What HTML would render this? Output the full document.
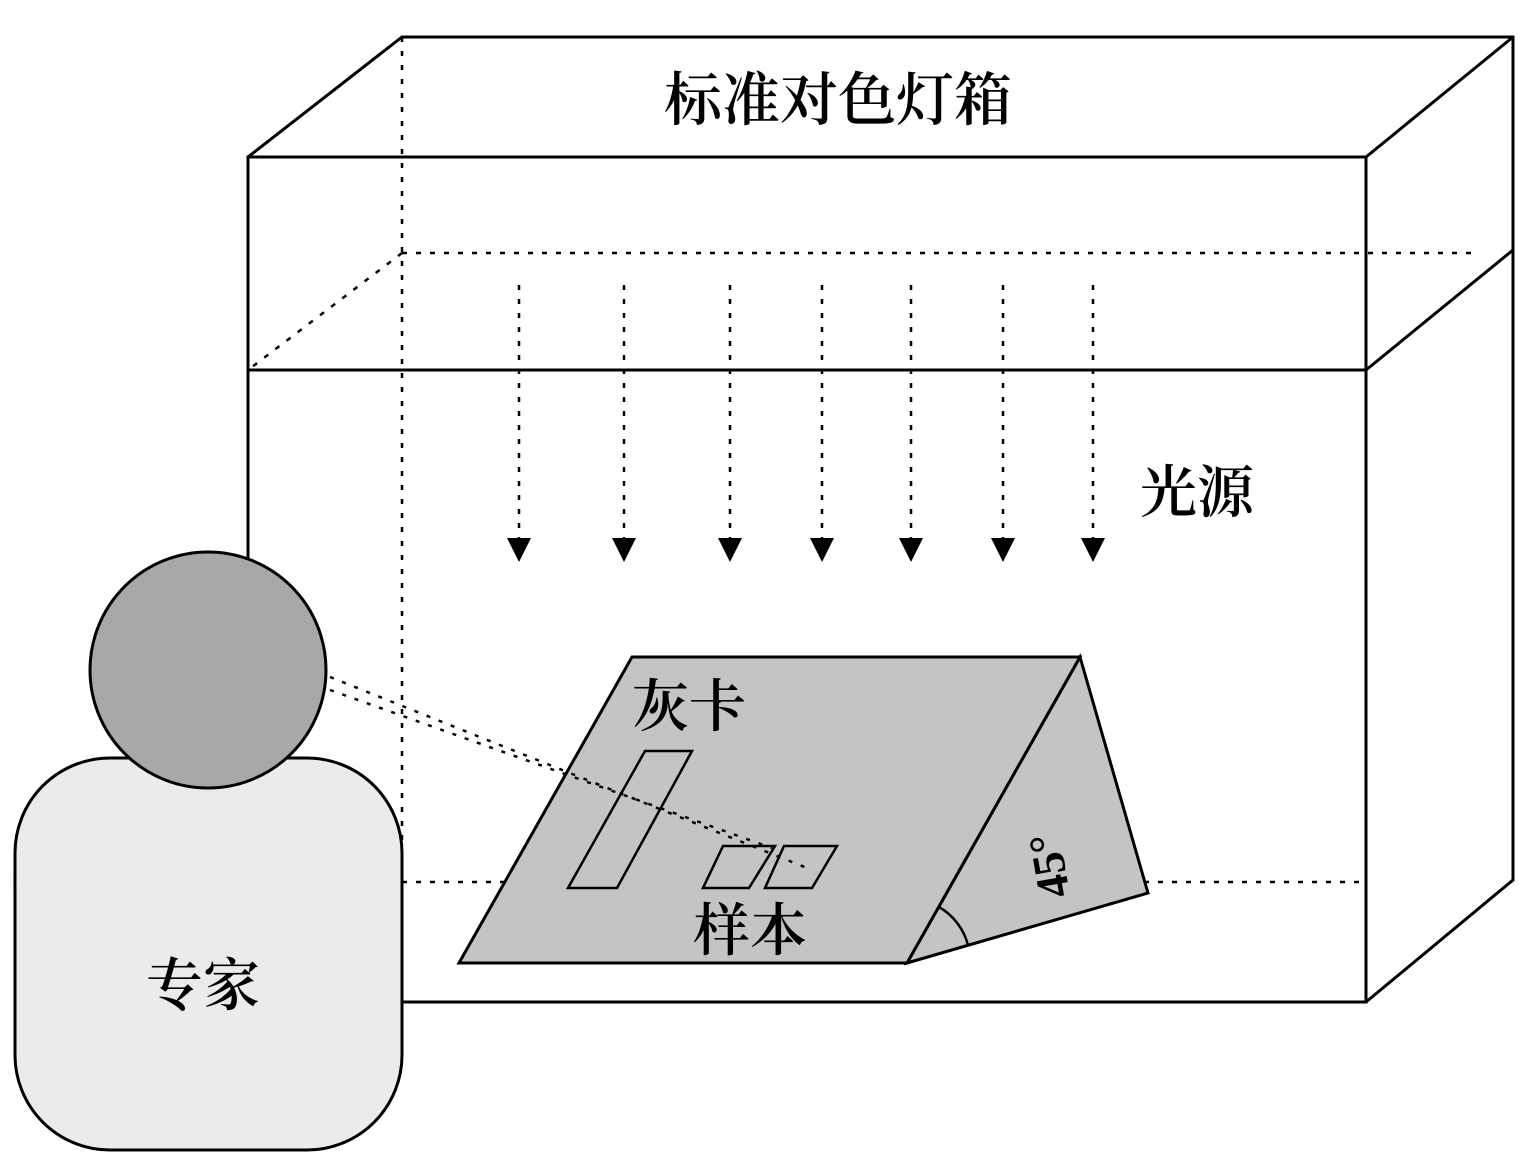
<!DOCTYPE html>
<html><head><meta charset="utf-8"><style>
html,body{margin:0;padding:0;background:#fff}
svg{display:block}
text{font-family:"Liberation Serif","Noto Serif CJK SC",serif;fill:#000;font-weight:600}
</style></head><body>
<svg width="1533" height="1176" viewBox="0 0 1533 1176" xmlns="http://www.w3.org/2000/svg">
<g stroke="#000" stroke-width="3" fill="none">
<g stroke-dasharray="5,9" stroke-width="2.5">
<line x1="402" y1="37" x2="402" y2="880"/>
<line x1="402" y1="253" x2="1480" y2="253"/>
<line x1="402" y1="253" x2="248" y2="370"/>
<line x1="402" y1="882" x2="1360" y2="882"/>
</g>
<rect x="248" y="157" width="1118" height="845"/>
<line x1="248" y1="370" x2="1366" y2="370"/>
<polyline points="248,157 402,37 1513,37 1513,880 1366,1002"/>
<line x1="1366" y1="157" x2="1513" y2="37"/>
<line x1="1366" y1="370" x2="1513" y2="250"/>
<g stroke-dasharray="5,9" stroke-width="2.5">
<line x1="519" y1="285" x2="519" y2="540"/><line x1="624" y1="285" x2="624" y2="540"/><line x1="730" y1="285" x2="730" y2="540"/><line x1="822" y1="285" x2="822" y2="540"/><line x1="911" y1="285" x2="911" y2="540"/><line x1="1003" y1="285" x2="1003" y2="540"/><line x1="1093" y1="285" x2="1093" y2="540"/>
</g>
</g>
<g fill="#000">
<polygon points="507,538 531,538 519,562"/><polygon points="612,538 636,538 624,562"/><polygon points="718,538 742,538 730,562"/><polygon points="810,538 834,538 822,562"/><polygon points="899,538 923,538 911,562"/><polygon points="991,538 1015,538 1003,562"/><polygon points="1081,538 1105,538 1093,562"/>
</g>
<g stroke="#000" stroke-width="3" fill="#c4c4c4">
<polygon points="1080,657 1148,893 907,963"/>
<polygon points="632,657 1080,657 907,963 459,963"/>
</g>
<path d="M939,907 A62,62 0 0 1 968,945" stroke="#000" stroke-width="2.5" fill="none"/>
<g stroke="#000" stroke-width="2.5" fill="none">
<polygon points="645,751 692,751 617,888 568,888"/>
<polygon points="723,846 775,846 749,888 703,888"/>
<polygon points="784,846 837,846 812,888 765,888"/>
</g>
<g stroke="#000" stroke-width="2.5" stroke-dasharray="4,9" fill="none">
<line x1="330" y1="677" x2="812" y2="870"/>
<line x1="330" y1="690" x2="772" y2="848"/>
</g>
<rect x="15" y="758" width="387" height="392" rx="95" ry="95" fill="#ebebeb" stroke="#000" stroke-width="3"/>
<circle cx="208" cy="670" r="118" fill="#a8a8a8" stroke="#000" stroke-width="3"/>
<text x="838" y="120" font-size="58" text-anchor="middle">标准对色灯箱</text>
<text x="1140" y="512" font-size="57">光源</text>
<text x="632" y="726" font-size="57">灰卡</text>
<text x="693" y="950" font-size="57">样本</text>
<text x="146" y="1005" font-size="57">专家</text>
<text x="0" y="0" font-size="46" transform="translate(1070,895) rotate(-100)">45°</text>
</svg>
</body></html>
